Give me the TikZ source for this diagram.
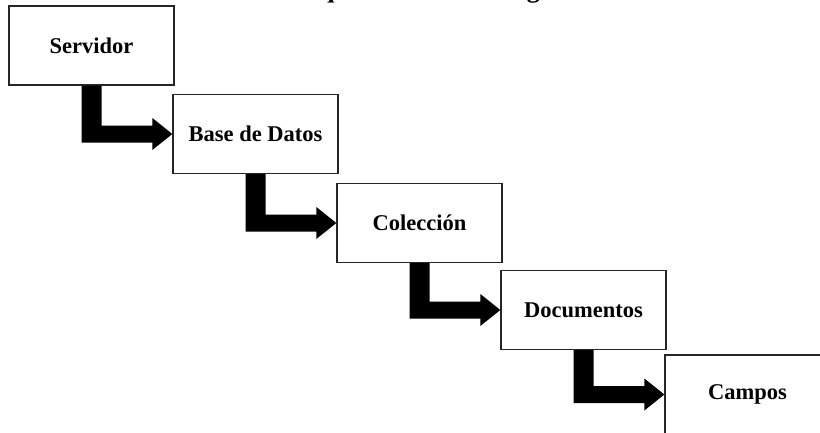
\documentclass[tikz,border=0pt]{standalone}
\usepackage{fontspec}
\setmainfont{Liberation Serif}
\usetikzlibrary{calc}

\tikzset{
  level/.style={draw=black!85, line width=1.3pt, fill=white,
    minimum width=165pt, minimum height=79pt, inner sep=0pt,
    font=\fontsize{22.5}{27}\selectfont\bfseries},
  bigarrow/.style={fill=black, draw=none},
  caption/.style={anchor=base west, inner sep=0pt,
    font=\fontsize{26}{30}\selectfont\bfseries}
}

% thick elbow arrow: down from the bottom of #1, then right into the left side of #2
\newcommand{\elbowarrow}[2]{%
  \fill[bigarrow] let \p1=(#1.south), \p2=(#2.west) in
    (\x1-10pt,\y1) -- (\x1-10pt,\y2-8.5pt) -- (\x2-20pt,\y2-8.5pt)
    -- (\x2-20pt,\y2-16pt) -- (\x2,\y2) -- (\x2-20pt,\y2+16pt)
    -- (\x2-20pt,\y2+8.5pt) -- (\x1+10pt,\y2+8.5pt) -- (\x1+10pt,\y1) -- cycle;}

\begin{document}
\begin{tikzpicture}[x=1pt, y=-1pt]
  \useasboundingbox (0,0) rectangle (820,432);
  \clip (0,0) rectangle (820,432);

  % figure caption, running off the top edge
  \node[caption] (cap) at (132,-2.5) {Ilustración 3: Arquitectura de MongoDB};

  % hierarchy levels
  \node[level] (srv) at (91.5,45.5)  {Servidor};
  \node[level] (db)  at (255.5,134)  {Base de Datos};
  \node[level] (col) at (419.5,223)  {Colección};
  \node[level] (doc) at (583.5,310)  {Documentos};
  \node[level] (fld) at (747.5,394.5) {Campos};

  % elbow arrows from each level to the next
  \elbowarrow{srv}{db}
  \elbowarrow{db}{col}
  \elbowarrow{col}{doc}
  \elbowarrow{doc}{fld}
\end{tikzpicture}
\end{document}
